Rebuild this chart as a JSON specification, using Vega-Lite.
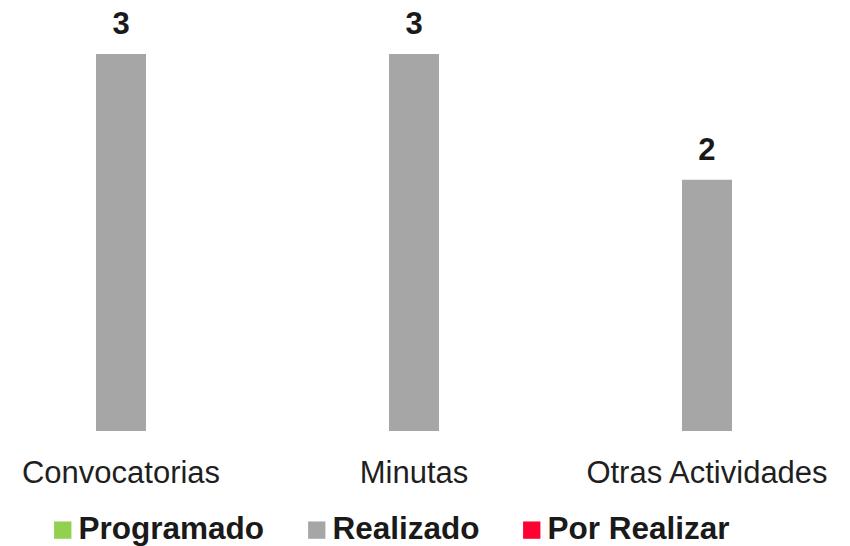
{
  "$schema": "https://vega.github.io/schema/vega-lite/v6.json",
  "width": 828,
  "height": 431,
  "autosize": {"type": "none"},
  "padding": {"left": 0, "top": 0, "right": 22, "bottom": 115},
  "background": "white",
  "config": {"view": {"stroke": null}, "font": "Liberation Sans"},
  "data": {
    "values": [
      {"categoria": "Convocatorias", "serie": "Realizado", "valor": 3},
      {"categoria": "Minutas", "serie": "Realizado", "valor": 3},
      {"categoria": "Otras Actividades", "serie": "Realizado", "valor": 2}
    ]
  },
  "encoding": {
    "x": {
      "field": "categoria",
      "type": "nominal",
      "sort": ["Convocatorias", "Minutas", "Otras Actividades"],
      "scale": {"paddingInner": 0.174, "paddingOuter": 0},
      "axis": {
        "title": null,
        "labelAngle": 0,
        "domain": false,
        "ticks": false,
        "labelFont": "Liberation Sans",
        "labelFontSize": 31,
        "labelColor": "#1f1f1f",
        "labelPadding": 27,
        "labelLimit": 0
      }
    },
    "xOffset": {
      "field": "serie",
      "type": "nominal",
      "scale": {"domain": ["Programado", "Realizado", "Por Realizar"], "paddingOuter": 0.92, "paddingInner": 0}
    },
    "y": {
      "field": "valor",
      "type": "quantitative",
      "scale": {"domain": [0, 3.43], "nice": false},
      "axis": null
    }
  },
  "layer": [
    {
      "mark": {"type": "bar"},
      "encoding": {
        "color": {
          "field": "serie",
          "type": "nominal",
          "scale": {
            "domain": ["Programado", "Realizado", "Por Realizar"],
            "range": ["#92D050", "#A6A6A6", "#FF0033"]
          },
          "legend": {
            "title": null,
            "orient": "none",
            "direction": "horizontal",
            "legendX": 47,
            "legendY": 514,
            "padding": 0,
            "symbolType": "square",
            "symbolSize": 300,
            "symbolStrokeWidth": 0,
            "labelFont": "Liberation Sans",
            "labelFontSize": 31.5,
            "labelFontWeight": "bold",
            "labelColor": "#1a1a1a",
            "labelOffset": 0,
            "columnPadding": 36,
            "labelLimit": 400
          }
        }
      }
    },
    {
      "mark": {"type": "text", "dy": -20, "baseline": "alphabetic", "font": "Liberation Sans", "fontSize": 31, "fontWeight": "bold", "color": "#1a1a1a"},
      "encoding": {"text": {"field": "valor", "type": "quantitative"}}
    }
  ]
}
